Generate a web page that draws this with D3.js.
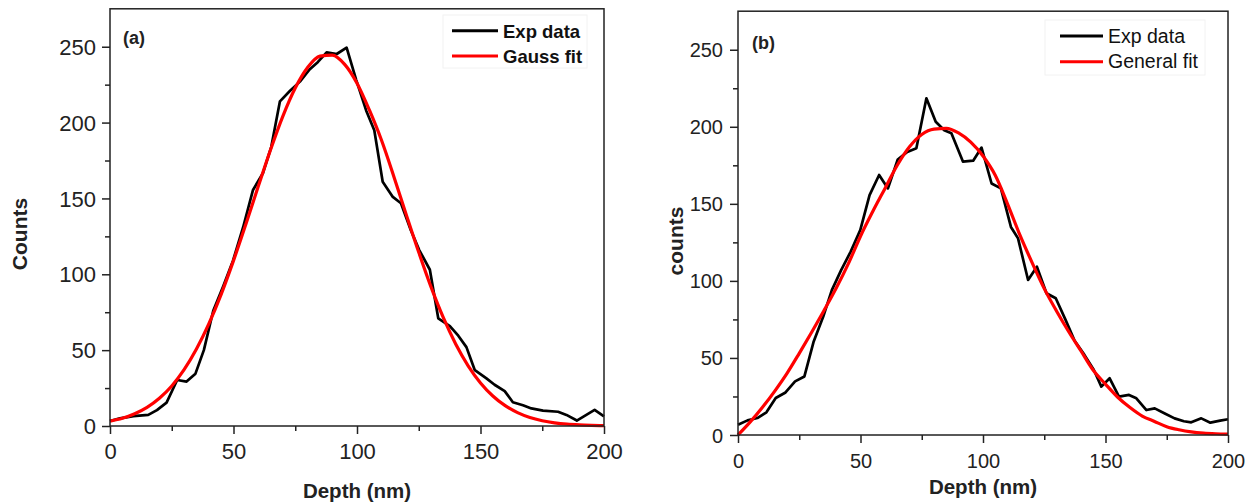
<!DOCTYPE html>
<html>
<head>
<meta charset="utf-8">
<script src="https://cdn.jsdelivr.net/npm/d3@7"></script>
<style>
  html, body { margin: 0; padding: 0; background: #fff; }
  svg { display: block; font-family: "Liberation Sans", Arial, sans-serif; }
</style>
</head>
<body>
<svg id="chart" width="1259" height="503"></svg>
<script>
// Panel (a): measured depth profile and its Gauss fit
const depthA = [0, 4, 9.5, 15.5, 19, 22.9, 27.2, 31, 34.6, 38, 41.8, 45.8, 49.8, 53.9, 57.9, 61.9,
  65.3, 68.8, 72.9, 76.9, 80.8, 84.2, 87.7, 91.8, 95.8, 99.7, 103.7, 107, 110.4, 114.5, 117.8,
  121.8, 125.2, 129.5, 132.9, 137.6, 141, 144.3, 147.7, 152.4, 155.7, 159.8, 163.1, 167.2,
  170.6, 175.3, 181.4, 184.8, 189, 196.2, 200];
const countsA = [3.3, 5, 6.5, 7.3, 10.5, 15.4, 30.3, 29.3, 34.5, 50, 76, 92, 109, 131, 155.6, 166.6,
  184, 214, 221, 227, 235, 240, 246.3, 245.2, 249.4, 228, 208, 195, 161, 151, 146.8,
  129, 116, 103, 71, 65.9, 59.5, 52, 36.8, 31.4, 27.2, 23, 15.7, 13.7,
  11.6, 10.1, 9.4, 7.3, 3.6, 10.6, 6.3];
const fitDepthA = [0, 5, 10, 15, 20, 25, 30, 35, 40, 45, 50, 55, 60, 65, 70, 75, 80, 85, 90, 95, 100,
  105, 110, 115, 120, 125, 130, 135, 140, 145, 150, 155, 160, 165, 170, 175, 180, 185, 190, 195, 200];
const fitCountsA = [3.2, 5.1, 8.1, 12.3, 18.3, 26.4, 37.1, 50.7, 67.3, 86.8, 109, 133, 157.8, 182.1,
  204.3, 222.8, 236.3, 243.8, 244.5, 238.4, 226, 208.3, 188, 164, 139, 114.5, 91.5, 71.2, 53.9,
  39.7, 28.4, 19.8, 13.4, 8.8, 5.6, 3.5, 2.1, 1.2, 0.7, 0.4, 0.2];

// Panel (b): measured depth profile and its general fit
const depthB = [0, 3.9, 7.9, 11.6, 15.4, 19.4, 23.3, 27.1, 30.9, 34.8, 38.3, 42.1, 46, 49.9, 53.7,
  57.6, 61.2, 65.2, 69.1, 72.8, 76.9, 80.7, 84.2, 87.1, 91.8, 96, 99.4, 103.5, 107.3, 111.4,
  114.3, 118.4, 122, 125.9, 129.7, 133.7, 137.4, 141.4, 145.2, 148.3, 151.7, 155.5, 159.6,
  162.6, 166.7, 170.1, 174.2, 178.2, 182, 185, 189.1, 192.8, 196.8, 200];
const countsB = [6.7, 9.5, 11, 14.7, 24, 27.6, 34.8, 38, 60.7, 76.9, 94, 107, 119, 133, 155.7,
  168.7, 160, 178.8, 183.7, 186, 218.5, 203.3, 197.8, 195.8, 177.4, 178, 186.5, 163.2, 160, 135,
  127.6, 100.6, 109.2, 92, 88.7, 74.7, 61.1, 52, 42.3, 31.4, 36.8, 24.9, 26,
  23.8, 16.2, 17.3, 14, 10.8, 8.9, 8.2, 10.8, 8, 9.3, 10.2];
const fitDepthB = fitDepthA;
const fitCountsB = [0, 8.5, 18, 28.5, 40, 53, 66.5, 80.5, 95, 111, 129, 145, 160, 175, 187, 195,
  198.5, 199, 196, 190, 181, 168.5, 150, 130, 112, 95, 80.5, 67, 54.5, 42, 33, 24.5, 17.8, 12.3,
  8.8, 5.4, 3.4, 2, 1.2, 0.8, 0.6];

const xMajor = [0, 50, 100, 150, 200];
const xMinor = [25, 75, 125, 175];
const yMajor = [0, 50, 100, 150, 200, 250];
const yMinor = [25, 75, 125, 175, 225];

const panels = [
  {
    x0: 110, x1: 604, y0: 426, y1: 8.8,
    depth: depthA, counts: countsA, fitDepth: fitDepthA, fitCounts: fitCountsA,
    tickFont: 22, xLabelBase: 459, yLabelEnd: 96,
    yTitle: "Counts", yTitleX: 27, yTitleY: 234,
    xTitleBase: 498,
    tag: "(a)", tagX: 123, tagY: 44,
    legend: { box: [443, 15, 144, 53], lx0: 452, lx1: 498, ly: [30.7, 56], tx: 503, ty: [37.5, 62.7],
              labels: ["Exp data", "Gauss fit"], size: 18.5, weight: "bold" }
  },
  {
    x0: 738, x1: 1228, y0: 435, y1: 11.2,
    depth: depthB, counts: countsB, fitDepth: fitDepthB, fitCounts: fitCountsB,
    tickFont: 20, xLabelBase: 468, yLabelEnd: 723,
    yTitle: "counts", yTitleX: 683, yTitleY: 241,
    xTitleBase: 494,
    tag: "(b)", tagX: 752, tagY: 49,
    legend: { box: [1045, 20, 160, 55], lx0: 1060, lx1: 1103, ly: [36, 61.7], tx: 1108, ty: [42.5, 68],
              labels: ["Exp data", "General fit"], size: 19.5, weight: "normal" }
  }
];

const svg = d3.select("#chart");
const axisColor = "#222";

panels.forEach(p => {
  const x = d3.scaleLinear().domain([0, 200]).range([p.x0, p.x1]);
  const y = d3.scaleLinear().domain([0, 275]).range([p.y0, p.y1]);
  const g = svg.append("g");

  // legend frame (very faint)
  const L = p.legend;
  g.append("rect")
    .attr("x", L.box[0]).attr("y", L.box[1]).attr("width", L.box[2]).attr("height", L.box[3])
    .attr("fill", "#fff").attr("stroke", "#f2f2f2").attr("stroke-width", 1);

  // data lines
  const line = d3.line().x(d => x(d[0])).y(d => y(d[1]));
  g.append("path")
    .datum(p.depth.map((d, i) => [d, p.counts[i]]))
    .attr("fill", "none").attr("stroke", "#000").attr("stroke-width", 2.7)
    .attr("stroke-linejoin", "round")
    .attr("d", line);
  g.append("path")
    .datum(p.fitDepth.map((d, i) => [d, p.fitCounts[i]]))
    .attr("fill", "none").attr("stroke", "#f00").attr("stroke-width", 3.2)
    .attr("d", line.curve(d3.curveMonotoneX));

  // frame
  g.append("rect")
    .attr("x", p.x0).attr("y", p.y1).attr("width", p.x1 - p.x0).attr("height", p.y0 - p.y1)
    .attr("fill", "none").attr("stroke", axisColor).attr("stroke-width", 1.5);

  // x axis: major + minor ticks
  const xAxis = g.append("g").attr("transform", `translate(0,${p.y0})`)
    .call(d3.axisBottom(x).tickValues(xMajor).tickSize(8).tickPadding(4).tickFormat(d3.format("d")));
  g.append("g").attr("transform", `translate(0,${p.y0})`)
    .call(d3.axisBottom(x).tickValues(xMinor).tickSize(5).tickFormat(""));
  // y axis: major + minor ticks
  const yAxis = g.append("g").attr("transform", `translate(${p.x0},0)`)
    .call(d3.axisLeft(y).tickValues(yMajor).tickSize(8).tickFormat(d3.format("d")));
  g.append("g").attr("transform", `translate(${p.x0},0)`)
    .call(d3.axisLeft(y).tickValues(yMinor).tickSize(5).tickFormat(""));

  g.selectAll(".domain").remove();
  g.selectAll(".tick line").attr("stroke", axisColor).attr("stroke-width", 1.5);

  xAxis.selectAll(".tick text")
    .attr("font-size", p.tickFont).attr("fill", axisColor)
    .attr("font-family", "'Liberation Sans', Arial, sans-serif")
    .attr("dy", null).attr("y", p.xLabelBase - p.y0);
  yAxis.selectAll(".tick text")
    .attr("font-size", p.tickFont).attr("fill", axisColor)
    .attr("font-family", "'Liberation Sans', Arial, sans-serif")
    .attr("x", p.yLabelEnd - p.x0).attr("dy", "0.35em");

  // axis titles
  g.append("text")
    .attr("x", (p.x0 + p.x1) / 2).attr("y", p.xTitleBase)
    .attr("text-anchor", "middle").attr("font-weight", "bold").attr("font-size", 20.5)
    .attr("fill", axisColor).text("Depth (nm)");
  g.append("text")
    .attr("transform", `translate(${p.yTitleX},${p.yTitleY}) rotate(-90)`)
    .attr("text-anchor", "middle").attr("font-weight", "bold").attr("font-size", 21)
    .attr("fill", axisColor).text(p.yTitle);

  // panel tag
  g.append("text")
    .attr("x", p.tagX).attr("y", p.tagY)
    .attr("font-weight", "bold").attr("font-size", 18).attr("fill", axisColor)
    .text(p.tag);

  // legend entries
  const colors = ["#000", "#f00"];
  L.labels.forEach((lab, i) => {
    g.append("line")
      .attr("x1", L.lx0).attr("x2", L.lx1).attr("y1", L.ly[i]).attr("y2", L.ly[i])
      .attr("stroke", colors[i]).attr("stroke-width", 3);
    g.append("text")
      .attr("x", L.tx).attr("y", L.ty[i])
      .attr("font-size", L.size).attr("font-weight", L.weight).attr("fill", "#111")
      .text(lab);
  });
});
</script>
</body>
</html>
